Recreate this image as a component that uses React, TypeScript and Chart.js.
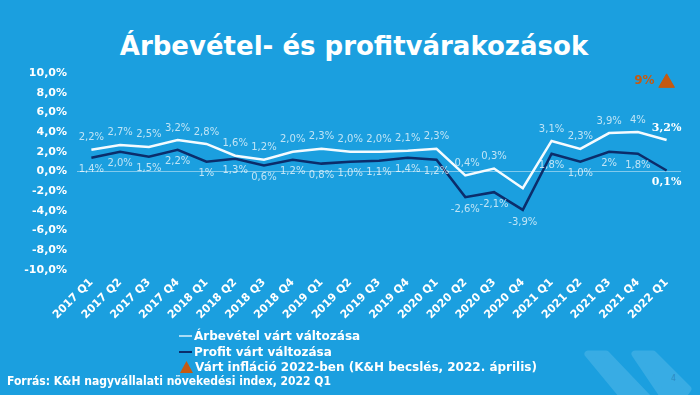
import React, { useEffect, useRef } from 'react';
import { Chart, registerables } from 'chart.js';

Chart.register(...registerables);

const categories = [
  '2017 Q1', '2017 Q2', '2017 Q3', '2017 Q4',
  '2018 Q1', '2018 Q2', '2018 Q3', '2018 Q4',
  '2019 Q1', '2019 Q2', '2019 Q3', '2019 Q4',
  '2020 Q1', '2020 Q2', '2020 Q3', '2020 Q4',
  '2021 Q1', '2021 Q2', '2021 Q3', '2021 Q4',
  '2022 Q1',
];

const revenueValues = [2.2, 2.7, 2.5, 3.2, 2.8, 1.6, 1.2, 2.0, 2.3, 2.0, 2.0, 2.1, 2.3, -0.4, 0.3, -1.7, 3.1, 2.3, 3.9, 4.0, 3.2];
const profitValues = [1.4, 2.0, 1.5, 2.2, 1.0, 1.3, 0.6, 1.2, 0.8, 1.0, 1.1, 1.4, 1.2, -2.6, -2.1, -3.9, 1.8, 1.0, 2.0, 1.8, 0.1];

const revenueLabels = ['2,2%', '2,7%', '2,5%', '3,2%', '2,8%', '1,6%', '1,2%', '2,0%', '2,3%', '2,0%', '2,0%', '2,1%', '2,3%', '-0,4%', '0,3%', null, '3,1%', '2,3%', '3,9%', '4%', '3,2%'];
const profitLabels = ['1,4%', '2,0%', '1,5%', '2,2%', '1%', '1,3%', '0,6%', '1,2%', '0,8%', '1,0%', '1,1%', '1,4%', '1,2%', '-2,6%', '-2,1%', '-3,9%', '1,8%', '1,0%', '2%', '1,8%', '0,1%'];

const inflationCategory = '2022 Q1';
const inflationValue = 9;
const inflationLabel = '9%';

const yMin = -10;
const yMax = 10;
const yStep = 2;

const seriesNames = ['Árbevétel várt változása', 'Profit várt változása', 'Várt infláció 2022-ben (K&H becslés, 2022. április)'];

const titleText = 'Árbevétel- és profitvárakozások';
const sourceText = 'Forrás: K&H nagyvállalati növekedési index, 2022 Q1';

const BG = '#1b9fdf';
const WHITE_LINE = '#f4fbff';
const NAVY_LINE = '#0b2d6b';
const ORANGE = '#c55a11';
const CHEVRON = '#38ace4';

const formatTick = (v: number) => v.toFixed(1).replace('.', ',') + '%';

const labelPlugin = {
  id: 'pointLabels',
  afterDatasetsDraw(chart: any) {
    const ctx = chart.ctx;
    ctx.save();
    ctx.textBaseline = 'middle';
    const drawSet = (dsIndex: number, labels: (string | null)[], dy: number) => {
      const meta = chart.getDatasetMeta(dsIndex);
      meta.data.forEach((pt: any, i: number) => {
        const t = labels[i];
        if (!t) return;
        const last = i === labels.length - 1;
        ctx.textAlign = 'center';
        ctx.font = last ? 'bold 11px "DejaVu Serif"' : '10px "DejaVu Sans"';
        ctx.fillStyle = last ? '#ffffff' : 'rgba(255,255,255,0.72)';
        ctx.fillText(t, pt.x, pt.y + dy);
      });
    };
    drawSet(0, revenueLabels, -12);
    drawSet(1, profitLabels, 12);
    const meta = chart.getDatasetMeta(2);
    meta.data.forEach((pt: any, i: number) => {
      if (categories[i] !== inflationCategory) return;
      ctx.textAlign = 'right';
      ctx.font = 'bold 12px "DejaVu Sans"';
      ctx.fillStyle = ORANGE;
      ctx.fillText(inflationLabel, pt.x - 12, pt.y - 2);
    });
    ctx.restore();
  },
};

function ChartCanvas() {
  const ref = useRef<HTMLCanvasElement | null>(null);
  useEffect(() => {
    if (!ref.current) return;
    const chart = new Chart(ref.current, {
      type: 'line',
      data: {
        labels: categories,
        datasets: [
          {
            label: seriesNames[0],
            data: revenueValues,
            borderColor: WHITE_LINE,
            borderWidth: 2.5,
            pointRadius: 0,
            tension: 0,
          },
          {
            label: seriesNames[1],
            data: profitValues,
            borderColor: NAVY_LINE,
            borderWidth: 2.5,
            pointRadius: 0,
            tension: 0,
          },
          {
            label: seriesNames[2],
            data: categories.map((c) => (c === inflationCategory ? inflationValue : null)),
            showLine: false,
            pointStyle: 'triangle',
            pointRadius: 9,
            pointBackgroundColor: ORANGE,
            pointBorderColor: ORANGE,
            borderColor: ORANGE,
            backgroundColor: ORANGE,
          },
        ],
      },
      options: {
        responsive: false,
        animation: false,
        devicePixelRatio: 1,
        layout: { padding: { top: 73, left: 0, right: 19, bottom: 0 } },
        plugins: {
          legend: { display: false },
          title: { display: false },
          tooltip: { enabled: false },
        },
        scales: {
          x: {
            type: 'category',
            offset: true,
            grid: { display: false, drawTicks: false },
            border: { display: false },
            ticks: {
              color: '#ffffff',
              font: { family: 'DejaVu Sans', size: 11, weight: 'bold' },
              minRotation: 45,
              maxRotation: 45,
              autoSkip: false,
              padding: 6,
            },
            afterFit: (s: any) => { s.height = 125; },
          },
          y: {
            min: yMin,
            max: yMax,
            grid: {
              drawTicks: false,
              color: (c: any) => (c.tick && c.tick.value === 0 ? 'rgba(255,255,255,0.45)' : 'rgba(0,0,0,0)'),
              lineWidth: 1,
            },
            border: { display: false },
            ticks: {
              stepSize: yStep,
              color: '#ffffff',
              font: { family: 'DejaVu Sans', size: 11, weight: 'bold' },
              padding: 10,
              callback: (v: any) => formatTick(Number(v)),
            },
            afterFit: (s: any) => { s.width = 77; },
          },
        },
      },
      plugins: [labelPlugin],
    } as any);
    return () => chart.destroy();
  }, []);
  return <canvas ref={ref} width={700} height={395} style={{ position: 'absolute', left: 0, top: 0, width: 700, height: 395 }} />;
}

export default function App() {
  const legendRow: React.CSSProperties = {
    position: 'absolute',
    left: 179,
    height: 16,
    display: 'flex',
    alignItems: 'center',
    whiteSpace: 'nowrap',
    color: '#ffffff',
    font: 'bold 12px "DejaVu Sans"',
  };
  return (
    <div style={{ position: 'fixed', left: 0, top: 0, width: 700, height: 395, background: BG, overflow: 'hidden', fontFamily: '"DejaVu Sans"' }}>
      <svg width={700} height={395} style={{ position: 'absolute', left: 0, top: 0 }}>
        <polygon points="588,354 606,354 650,400 626,400" fill={CHEVRON} stroke={CHEVRON} strokeWidth={7} strokeLinejoin="round" />
        <polygon points="635,354 653,354 688,389 680,400 666,400" fill={CHEVRON} stroke={CHEVRON} strokeWidth={7} strokeLinejoin="round" />
        <text x={671} y={381} fontSize={8} fill="rgba(20,70,120,0.35)" fontFamily="DejaVu Sans">4</text>
      </svg>
      <div style={{ position: 'absolute', left: 4, top: 30, width: 700, textAlign: 'center', color: '#ffffff', font: 'bold 26px "DejaVu Sans"', lineHeight: '32px' }}>
        {titleText}
      </div>
      <ChartCanvas />
      <div style={{ ...legendRow, top: 328 }}>
        <span style={{ display: 'inline-block', width: 13, height: 2, background: '#a9dcf5', marginRight: 2 }} />
        {seriesNames[0]}
      </div>
      <div style={{ ...legendRow, top: 344 }}>
        <span style={{ display: 'inline-block', width: 13, height: 2, background: NAVY_LINE, marginRight: 2 }} />
        {seriesNames[1]}
      </div>
      <div style={{ ...legendRow, top: 359 }}>
        <svg width={15} height={14} style={{ marginRight: 1 }}>
          <polygon points="7.5,1 14,13 1,13" fill={ORANGE} />
        </svg>
        {seriesNames[2]}
      </div>
      <div style={{ position: 'absolute', left: 7, top: 373, whiteSpace: 'nowrap', color: '#ffffff', font: 'bold 12px "DejaVu Sans Condensed"', lineHeight: '16px' }}>
        {sourceText}
      </div>
    </div>
  );
}
